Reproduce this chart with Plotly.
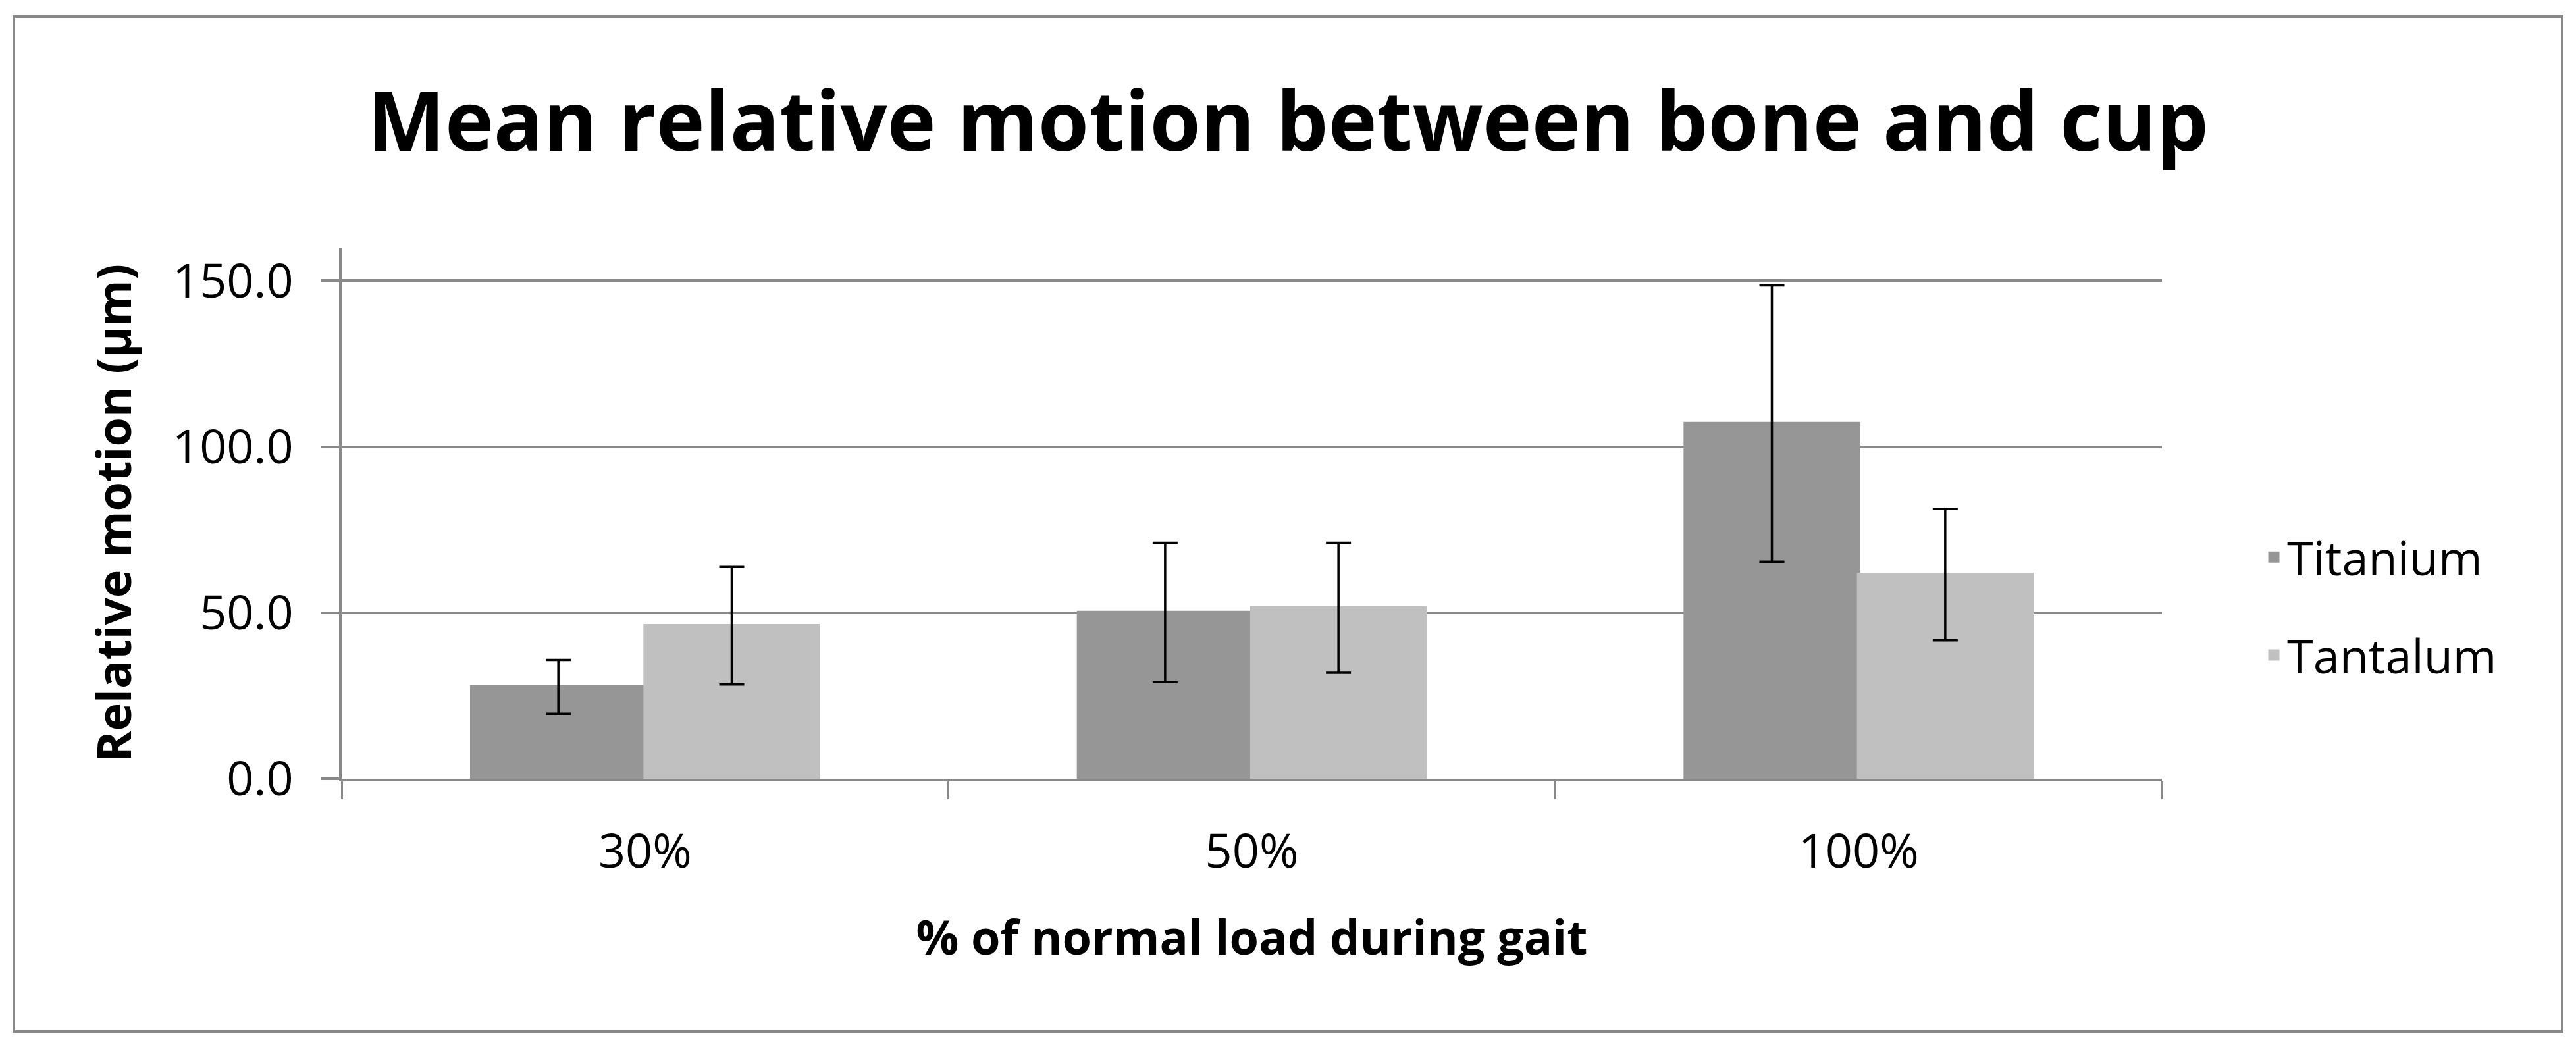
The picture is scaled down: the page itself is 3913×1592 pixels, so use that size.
import plotly.graph_objects as go

categories = ["30%", "50%", "100%"]
series_names = ["Titanium", "Tantalum"]
titanium_mean = [27.7, 50.1, 107.0]
titanium_err = [8.1, 21.0, 41.6]
tantalum_mean = [46.1, 51.5, 61.5]
tantalum_err = [17.7, 19.6, 19.8]
y_ticks = [0, 50, 100, 150]
y_tick_labels = ["0.0", "50.0", "100.0", "150.0"]

colors = ["#969696", "#C0C0C0"]
font_family = "Open Sans"
grid_color = "#898989"

# page has an 8px body margin; figure sized to fit the window
OFF = 8
W, H = 3913 - 2 * OFF, 1592 - 2 * OFF
ml = 519 - OFF
mt = 376 - OFF
mr = W - (3284 - OFF)
mb = H - (1183 - OFF)
pw = W - ml - mr
ph = H - mt - mb

def px_to_paper_x(px):
    return (px - OFF - ml) / pw

def px_to_paper_y(py):
    return (H - mb - (py - OFF)) / ph

fig = go.Figure()
for name, means, errs, col in [
    (series_names[0], titanium_mean, titanium_err, colors[0]),
    (series_names[1], tantalum_mean, tantalum_err, colors[1]),
]:
    fig.add_trace(go.Bar(
        x=categories, y=means, name=name, legendgroup=name,
        marker=dict(color=col, line=dict(width=5, color=col)),
        error_y=dict(type="data", array=errs, visible=True,
                     color="black", thickness=3.5, width=19),
    ))

fig.update_layout(
    width=W, height=H,
    margin=dict(l=ml, r=mr, t=mt, b=mb, autoexpand=False),
    paper_bgcolor="white", plot_bgcolor="white",
    barmode="group", bargap=0.4286, bargroupgap=0,
    font=dict(family=font_family, color="black", size=72),
    title=dict(text="<b>Mean relative motion between bone and cup</b>",
               x=0.5, xanchor="center", xref="container",
               y=1 - (185 - OFF) / H, yanchor="middle", yref="container",
               font=dict(family=font_family, size=125, color="black")),
    showlegend=True,
    legend=dict(x=px_to_paper_x(3434), xanchor="left",
                y=px_to_paper_y(921), yanchor="middle",
                font=dict(family=font_family, size=72, color="black"),
                tracegroupgap=52, bgcolor="rgba(0,0,0,0)", itemwidth=30),
    xaxis=dict(
        type="category", showline=True, linecolor=grid_color, linewidth=4,
        ticks="outside", tickson="boundaries", ticklen=27, tickwidth=3,
        tickcolor=grid_color, showgrid=False,
        tickfont=dict(family=font_family, size=72, color="black"),
        ticklabelstandoff=45,
        title=dict(text="<b>% of normal load during gait</b>",
                   font=dict(family=font_family, size=72, color="black"),
                   standoff=62),
    ),
    yaxis=dict(
        range=[0, 160], tickvals=y_ticks, ticktext=y_tick_labels,
        showline=True, linecolor=grid_color, linewidth=4,
        ticks="outside", ticklen=27, tickwidth=4, tickcolor=grid_color,
        showgrid=True, gridcolor=grid_color, gridwidth=4, zeroline=False,
        tickfont=dict(family=font_family, size=72, color="black"),
        ticklabelstandoff=28,
        title=dict(text="<b>Relative motion (µm)</b>",
                   font=dict(family=font_family, size=72, color="black"),
                   standoff=40),
    ),
    shapes=[dict(type="rect", xref="paper", yref="paper",
                 x0=px_to_paper_x(21), x1=px_to_paper_x(3892),
                 y0=px_to_paper_y(1567), y1=px_to_paper_y(25),
                 line=dict(color=grid_color, width=4), fillcolor="rgba(0,0,0,0)",
                 layer="below")],
)

fig.write_html("out.html")
